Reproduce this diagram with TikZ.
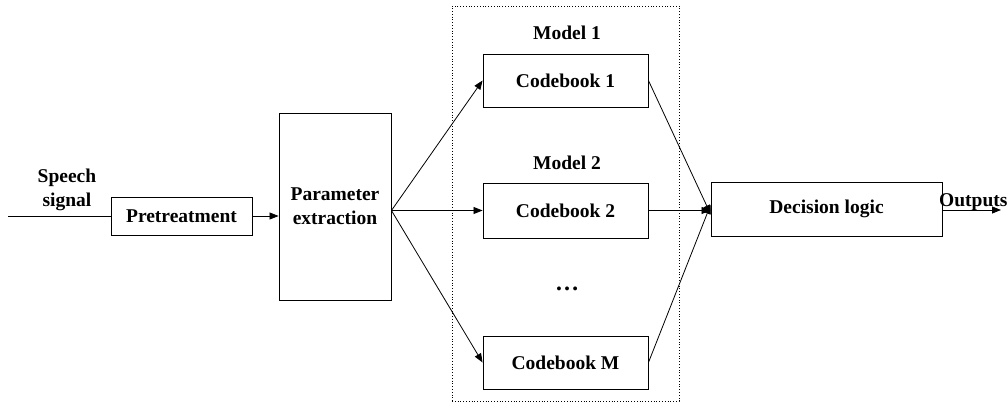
\documentclass[tikz,border=0pt]{standalone}
\usepackage{fontspec}
\setmainfont{Liberation Serif}
\usetikzlibrary{arrows.meta}
\begin{document}
\begin{tikzpicture}[x=1pt,y=-1pt,
  every node/.style={font=\fontsize{19.5}{24}\selectfont\bfseries, inner sep=0pt},
  blk/.style={draw, line width=0.9pt},
  lbl/.style={},
  conn/.style={line width=0.8pt, -{Triangle[length=9pt,width=7pt]}},
  plain/.style={line width=0.8pt}]
\useasboundingbox (0,0) rectangle (1007,403);

% processing chain
\node[blk, minimum width=141, minimum height=38] (pre) at (181.5,216) {Pretreatment};
\node[blk, minimum width=112, minimum height=187, align=center] (par) at (335,206.5) {Parameter\\extraction};

% models inside the dotted frame
\node[draw, dotted, line width=0.8pt, minimum width=227, minimum height=395] (frame) at (565.5,203.5) {};
\node[lbl] (m1) at (567,33) {Model 1};
\node[blk, minimum width=165, minimum height=53] (cb1) at (565.5,80.5) {Codebook 1};
\node[lbl] (m2) at (567,163) {Model 2};
\node[blk, minimum width=165, minimum height=55] (cb2) at (565.5,210.5) {Codebook 2};
\node[lbl, font=\fontsize{24}{24}\selectfont\bfseries] (dots) at (567,289) {…};
\node[blk, minimum width=165, minimum height=53] (cbm) at (565.5,362.5) {Codebook M};

\node[blk, minimum width=231, minimum height=54] (dec) at (826.5,209) {Decision logic};

% input and output
\node[lbl, align=center] (sp) at (67,190) {Speech\\signal};
\coordinate (in) at (8,216);
\coordinate (out) at (1001,210);
\node[lbl, anchor=base west] (outl) at (939,207) {Outputs};

% connectors
\draw[plain] (in) -- (pre.west);
\draw[conn] (pre.east) -- (pre.east -| par.west);
\coordinate (fan) at (par.east |- cb2);
\draw[conn] (fan) -- (cb1.west);
\draw[conn] (fan) -- (cb2.west);
\draw[conn] (fan) -- (cbm.west);
\draw[conn] (cb1.east) -- ([yshift=-5pt]dec.west);
\draw[conn] (cb2.east) -- (cb2.east -| dec.west);
\draw[conn] (cbm.east) -- ([yshift=4pt]dec.west);
\draw[conn] (dec.east |- out) -- (out);
\end{tikzpicture}
\end{document}
